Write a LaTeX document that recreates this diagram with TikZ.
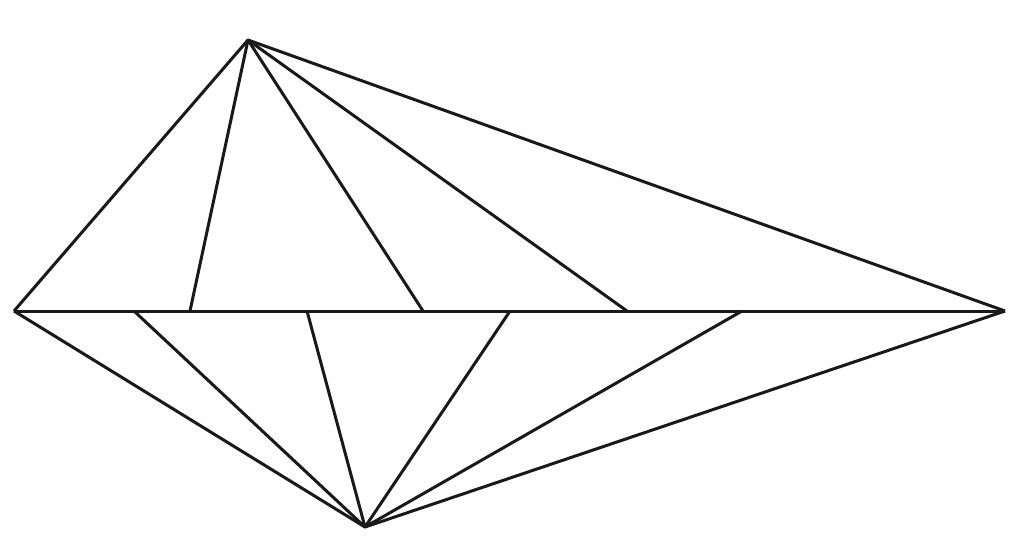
\documentclass[tikz,border=0pt]{standalone}
\usepackage{tikz}

\begin{document}
\begin{tikzpicture}[x=1pt,y=-1pt,line width=3pt,line join=round,
  edge/.style={draw=black!90}]
\useasboundingbox (0,0) rectangle (1024,542);
%vertices
\coordinate (T) at (248,40);
\coordinate (L) at (14,311);
\coordinate (R) at (1005,311);
\coordinate (B) at (365,527);
%feet on the base line
\coordinate (t1) at (190,311);
\coordinate (t2) at (423,311);
\coordinate (t3) at (627,311);
\coordinate (b1) at (134,311);
\coordinate (b2) at (307,311);
\coordinate (b3) at (510,311);
\coordinate (b4) at (742,311);
\draw[edge] (L) -- (R);
\draw[edge] (L) -- (T) -- (R);
\draw[edge] (L) -- (B) -- (R);
\foreach \p in {t1,t2,t3}
  \draw[edge] (T) -- (\p);
\foreach \p in {b1,b2,b3,b4}
  \draw[edge] (B) -- (\p);
\end{tikzpicture}
\end{document}
